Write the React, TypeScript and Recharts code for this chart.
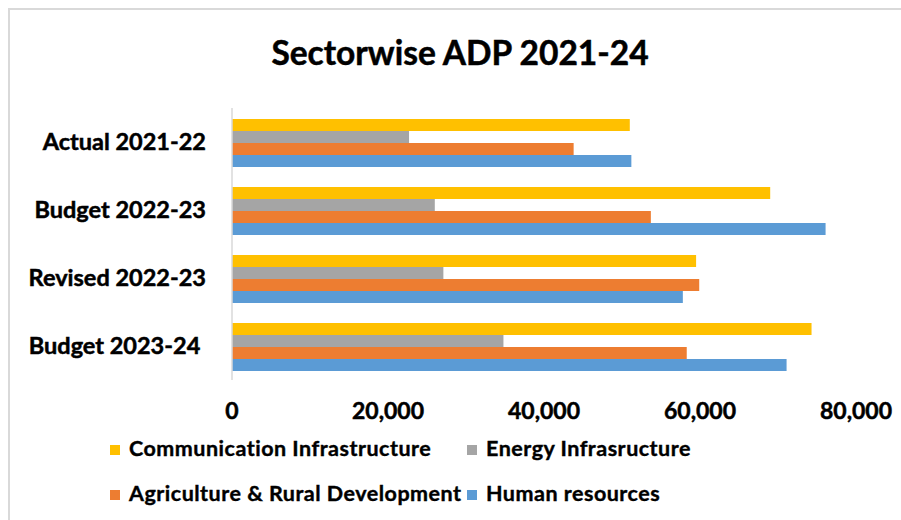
import React from 'react';
import { BarChart, Bar, XAxis, YAxis, Legend } from 'recharts';

const categories = ['Actual 2021-22', 'Budget 2022-23', 'Revised 2022-23', 'Budget 2023-24 '];
const communication = [51000, 69000, 59500, 74300];
const energy = [22700, 26000, 27100, 34800];
const agriculture = [43800, 53700, 59900, 58300];
const human = [51200, 76100, 57800, 71100];
const xTicks = [0, 20000, 40000, 60000, 80000];
const seriesKeys = ['communication', 'energy', 'agriculture', 'human'];
const seriesNames = ['Communication Infrastructure', 'Energy Infrasructure', 'Agriculture & Rural Development', 'Human resources'];
const seriesColors = ['#FFC000', '#A5A5A5', '#ED7D31', '#5B9BD5'];

const data = categories.map((c, i) => ({
  category: c,
  communication: communication[i],
  energy: energy[i],
  agriculture: agriculture[i],
  human: human[i],
}));

const FONT = 'Lato, sans-serif';

const renderLegend = () => {
  const cols = [110, 467];
  const rows = [18, 63];
  return (
    <div style={{ position: 'relative', width: 901, height: 90, fontFamily: FONT }}>
      {seriesNames.map((name, i) => {
        const col = i % 2;
        const row = Math.floor(i / 2);
        return (
          <div
            key={name}
            style={{
              position: 'absolute',
              left: cols[col],
              top: rows[row] - 14,
              height: 28,
              display: 'flex',
              alignItems: 'center',
              whiteSpace: 'nowrap',
            }}
          >
            <span style={{ display: 'inline-block', width: 10, height: 10, background: seriesColors[i], marginRight: 9, marginTop: 3 }} />
            <span style={{ fontSize: 21.5, fontWeight: 700, color: '#000', WebkitTextStroke: '0.4px #000', letterSpacing: 0.5 }}>{name}</span>
          </div>
        );
      })}
    </div>
  );
};

export default function App() {
  return (
    <div style={{ position: 'absolute', left: 0, top: 0, width: 901, height: 520, background: '#fff', overflow: 'hidden' }}>
      <div style={{ position: 'absolute', left: 8, top: 8, width: 960, height: 600, borderLeft: '2px solid #d9d9d9', borderTop: '2px solid #d9d9d9' }} />
      <div style={{ position: 'absolute', left: 0, top: 30, width: 920, textAlign: 'center', fontFamily: FONT, fontWeight: 700, fontSize: 33.5, color: '#000', lineHeight: '44px', WebkitTextStroke: '0.5px #000' }}>
        Sectorwise ADP 2021-24
      </div>
      <BarChart
        width={901}
        height={520}
        data={data}
        layout="vertical"
        margin={{ top: 108, right: 45, bottom: 0, left: 0 }}
        barCategoryGap={11}
        barGap={0}
      >
        <XAxis
          type="number"
          domain={[0, 80000]}
          ticks={xTicks}
          axisLine={false}
          tickLine={false}
          tickSize={0}
          tickMargin={23}
          height={50}
          interval={0}
          tickFormatter={(v: number) => v.toLocaleString('en-US')}
          tick={{ fill: '#000', fontSize: 23, fontWeight: 700, fontFamily: FONT, stroke: '#000', strokeWidth: 0.5 }}
        />
        <YAxis
          type="category"
          dataKey="category"
          width={232}
          axisLine={{ stroke: '#d9d9d9', strokeWidth: 1.5 }}
          tickLine={false}
          tickSize={0}
          tickMargin={26}
          tick={{ fill: '#000', fontSize: 23.5, fontWeight: 700, fontFamily: FONT, stroke: '#000', strokeWidth: 0.5, style: { whiteSpace: 'pre' } }}
        />
        <Legend verticalAlign="bottom" align="left" content={renderLegend} height={90} />
        {seriesKeys.map((k, i) => (
          <Bar key={k} dataKey={k} name={seriesNames[i]} fill={seriesColors[i]} isAnimationActive={false} />
        ))}
      </BarChart>
    </div>
  );
}
